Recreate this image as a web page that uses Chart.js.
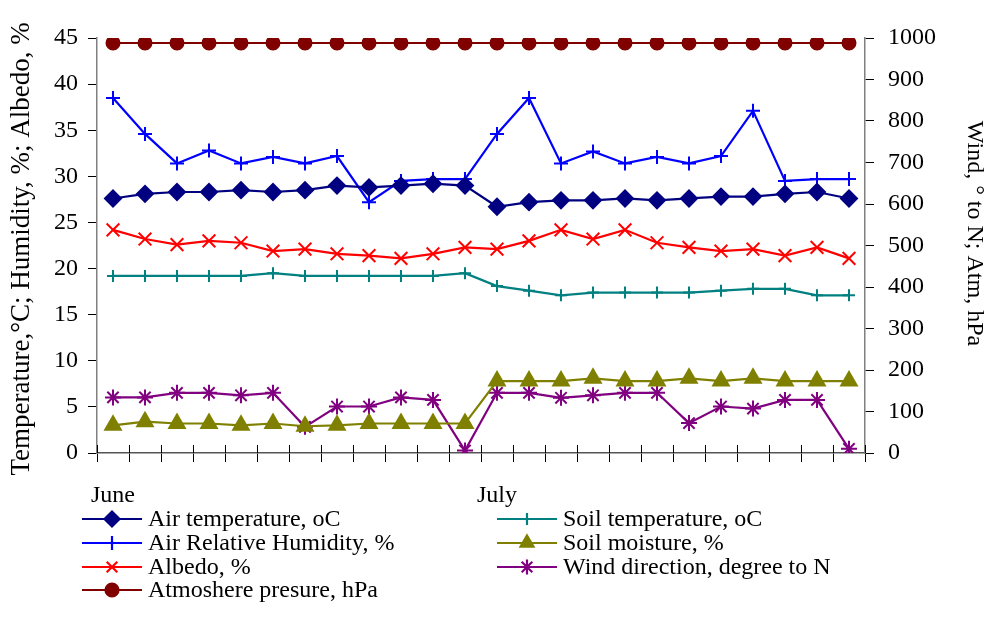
<!DOCTYPE html>
<html>
<head>
<meta charset="utf-8">
<script src="https://cdn.jsdelivr.net/npm/chart.js@4/dist/chart.umd.min.js"></script>
<style>
html,body{margin:0;padding:0;background:#fff;}
#wrap{width:993px;height:635px;position:relative;}
</style>
</head>
<body>
<div id="wrap"><canvas id="c" width="993" height="635"></canvas></div>
<script>
// ---- data ----
const categories = ['June','','','','','','','','','','','','July','','','','','','','','','','',''];
const airTemperature = [27.6,28.1,28.3,28.3,28.5,28.3,28.5,29.0,28.8,29.0,29.2,29.0, 26.7,27.2,27.4,27.4,27.6,27.4,27.6,27.8,27.8,28.1,28.3,27.6];
const airHumidity = [38.5,34.6,31.4,32.8,31.4,32.1,31.4,32.2,27.2,29.5,29.7,29.7, 34.6,38.5,31.4,32.7,31.4,32.1,31.4,32.2,37.1,29.5,29.7,29.7];
const albedo = [24.2,23.2,22.6,23.0,22.8,21.9,22.1,21.6,21.4,21.1,21.6,22.3, 22.1,23.0,24.2,23.2,24.2,22.8,22.3,21.9,22.1,21.4,22.3,21.1];
const atmPressure = [988,988,988,988,988,988,988,988,988,988,988,988, 988,988,988,988,988,988,988,988,988,988,988,988];
const soilTemperature = [19.2,19.2,19.2,19.2,19.2,19.5,19.2,19.2,19.2,19.2,19.2,19.5, 18.1,17.6,17.1,17.4,17.4,17.4,17.4,17.6,17.8,17.8,17.1,17.1];
const soilMoisture = [3.0,3.4,3.2,3.2,3.0,3.2,2.9,3.0,3.2,3.2,3.2,3.2, 7.8,7.8,7.8,8.1,7.8,7.8,8.1,7.8,8.1,7.8,7.8,7.8];
const windDirection = [134,134,145,145,139,145,63,112,112,134,128,6, 145,145,133,139,145,145,72,112,107,128,128,10];
const leftTicks = [0,5,10,15,20,25,30,35,40,45];
const rightTicks = [0,100,200,300,400,500,600,700,800,900,1000];

const FONT = 'Liberation Serif, Times New Roman, serif';

function ds(label, data, color, style, radius, axis, order){
  return {label, data, borderColor:color, backgroundColor:color, pointBackgroundColor:color,
    pointBorderColor:color, pointStyle:style, pointRadius:radius, pointHoverRadius:radius,
    pointBorderWidth:2, borderWidth:2.2, tension:0, yAxisID:axis, order:order};
}

const datasets = [
  ds('Air temperature, oC', airTemperature, '#000080', 'rectRot', 8, 'y', 1),
  ds('Air Relative Humidity, %', airHumidity, '#0000FF', 'cross', 7, 'y', 2),
  ds('Albedo, %', albedo, '#FF0000', 'crossRot', 9, 'y', 3),
  ds('Atmoshere presure, hPa', atmPressure, '#800000', 'circle', 6.5, 'y1', 4),
  ds('Soil temperature, oC', soilTemperature, '#008080', 'cross', 6, 'y', 5),
  ds('Soil moisture, %', soilMoisture, '#808000', 'triangle', 9, 'y', 6),
  ds('Wind direction, degree to N', windDirection, '#800080', 'star', 8, 'y1', 7)
];

// inner half of the x-axis tick marks (Excel-style crossing ticks)
const crossTicks = {
  id:'crossTicks',
  afterDraw(chart){
    const xs = chart.scales.x, ctx = chart.ctx;
    const n = chart.data.labels.length;
    const step = xs.getPixelForValue(1) - xs.getPixelForValue(0);
    ctx.save();
    ctx.strokeStyle = '#000'; ctx.lineWidth = 1;
    for (let i = 0; i <= n; i++) {
      const x = Math.round(xs.getPixelForValue(0) - step/2 + i*step) + 0.5;
      ctx.beginPath(); ctx.moveTo(x, xs.top - 8); ctx.lineTo(x, xs.top); ctx.stroke();
    }
    ctx.restore();
  }
};

// custom two-column legend
const legendPlugin = {
  id:'colLegend',
  afterDraw(chart){
    const ctx = chart.ctx;
    const cols = [[0,1,2,3],[4,5,6]];
    const colX = [82, 497];
    const rowY = [519, 543, 567, 590];
    ctx.save();
    ctx.font = '24px ' + FONT;
    ctx.textBaseline = 'middle';
    ctx.textAlign = 'left';
    cols.forEach((col, ci) => {
      col.forEach((di, ri) => {
        const d = chart.data.datasets[di];
        const x0 = colX[ci], y = rowY[ri];
        ctx.strokeStyle = d.borderColor;
        ctx.fillStyle = d.borderColor;
        ctx.lineWidth = 2.2;
        ctx.beginPath(); ctx.moveTo(x0, y); ctx.lineTo(x0 + 60, y); ctx.stroke();
        Chart.helpers.drawPoint(ctx, {pointStyle:d.pointStyle, radius:Math.min(d.pointRadius,7.5), rotation:0, borderWidth:2}, x0 + 30, y);
        ctx.fillStyle = '#000';
        ctx.fillText(d.label, x0 + 66, y + 1);
      });
    });
    ctx.restore();
  }
};

new Chart(document.getElementById('c'), {
  type:'line',
  data:{labels:categories, datasets},
  plugins:[crossTicks, legendPlugin],
  options:{
    responsive:false,
    animation:false,
    layout:{padding:{top:38, bottom:127, left:0, right:0}},
    plugins:{legend:{display:false}, tooltip:{enabled:false}},
    scales:{
      x:{
        offset:true,
        grid:{display:true, drawOnChartArea:false, offset:true, tickLength:9, color:'#000', lineWidth:1},
        border:{display:true, color:'#555', width:1.5},
        ticks:{autoSkip:false, maxRotation:0, minRotation:0, padding:19, color:'#000', font:{family:FONT, size:24}},
        afterFit(s){ s.height = 55; }
      },
      y:{
        position:'left', min:0, max:45,
        afterBuildTicks(s){ s.ticks = leftTicks.map(v=>({value:v})); },
        grid:{drawOnChartArea:false, tickLength:9, color:'#000'},
        border:{display:true, color:'#808080', width:1.5},
        ticks:{padding:10, color:'#000', font:{family:FONT, size:24}, callback:(v)=>String(v)},
        title:{display:true, text:'Temperature,°C; Humidity, %; Albedo, % ', color:'#000', font:{family:FONT, size:27}, padding:{top:6, bottom:0}},
        afterFit(s){ s.width = 97; }
      },
      y1:{
        position:'right', min:0, max:1000,
        afterBuildTicks(s){ s.ticks = rightTicks.map(v=>({value:v})); },
        grid:{drawOnChartArea:false, tickLength:9, color:'#000'},
        border:{display:true, color:'#808080', width:1.5},
        ticks:{padding:14, color:'#000', font:{family:FONT, size:24}, callback:(v)=>String(v)},
        title:{display:true, text:'Wind, ° to N; Atm, hPa    ', color:'#000', font:{family:FONT, size:24}, padding:{top:4, bottom:0}},
        afterFit(s){ s.width = 128; }
      }
    }
  }
});
</script>
</body>
</html>
